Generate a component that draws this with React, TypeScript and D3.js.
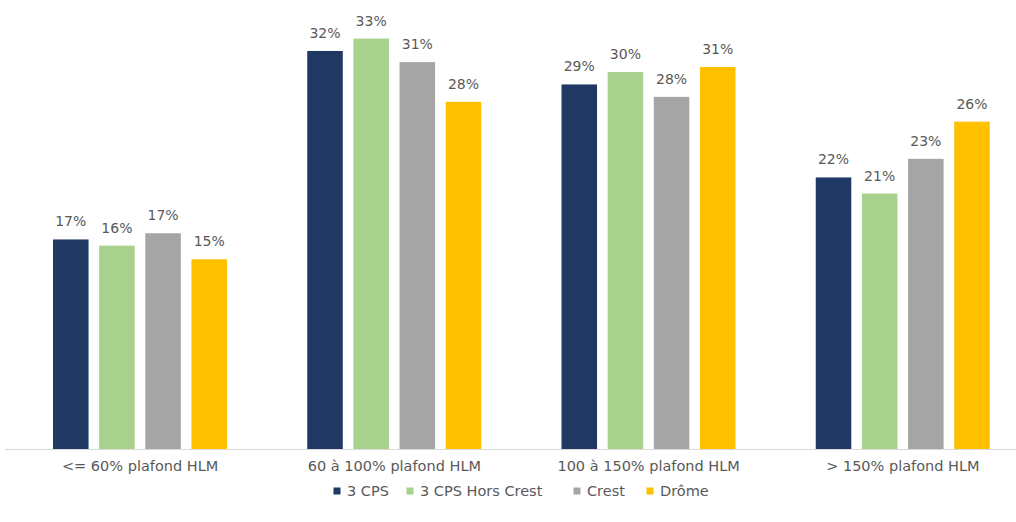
import React from "react";
import * as d3 from "d3";

const categories = ["<= 60% plafond HLM", "60 à 100% plafond HLM", "100 à 150% plafond HLM", "> 150% plafond HLM"];
const seriesNames = ["3 CPS", "3 CPS Hors Crest", "Crest", "Drôme"];
const seriesColors = ["#1f3864", "#a9d18e", "#a5a5a5", "#ffc000"];
const cps3 = [16.9, 32.1, 29.4, 21.9];
const cps3HorsCrest = [16.4, 33.1, 30.4, 20.6];
const crest = [17.4, 31.2, 28.4, 23.4];
const drome = [15.3, 28.0, 30.8, 26.4];
const seriesValues = [cps3, cps3HorsCrest, crest, drome];

const W = 1016;
const H = 522;
const FONT = "'DejaVu Sans', sans-serif";

export default function App() {
  const x0 = d3.scaleBand<string>().domain(categories).range([13, 1030]).padding(0);
  const x1 = d3
    .scaleBand<string>()
    .domain(seriesNames)
    .range([40, 214])
    .paddingInner(0.23)
    .paddingOuter(0);
  const y = d3.scaleLinear().domain([0, 36]).range([449, 2.6]);

  const legendX = [337, 410, 577, 650];

  return (
    <svg
      width={W}
      height={H}
      style={{ position: "absolute", left: 0, top: 0, background: "#fff" }}
      fontFamily={FONT}
    >
      <rect x={0} y={0} width={W} height={H} fill="#fff" />
      {categories.map((c, ci) => (
        <g key={c} transform={`translate(${x0(c)},0)`}>
          {seriesNames.map((s, si) => {
            const v = seriesValues[si][ci];
            const bx = x1(s)!;
            return (
              <g key={s}>
                <rect x={bx} y={y(v)} width={x1.bandwidth()} height={y(0) - y(v)} fill={seriesColors[si]} />
                <text
                  x={bx + x1.bandwidth() / 2}
                  y={y(v) - 13}
                  textAnchor="middle"
                  fontSize={14}
                  fill="#595959"
                >
                  {Math.round(v)}%
                </text>
              </g>
            );
          })}
          <text x={x0.bandwidth() / 2} y={471} textAnchor="middle" fontSize={14.5} fill="#595959">
            {c}
          </text>
        </g>
      ))}
      <line x1={5} x2={W} y1={y(0) + 0.5} y2={y(0) + 0.5} stroke="#d9d9d9" strokeWidth={1} />
      {seriesNames.map((s, si) => (
        <g key={s} transform={`translate(${legendX[si]},491)`}>
          <rect x={-3.5} y={-3.5} width={7} height={7} fill={seriesColors[si]} />
          <text x={10} y={5} fontSize={14.5} fill="#595959">
            {s}
          </text>
        </g>
      ))}
    </svg>
  );
}
